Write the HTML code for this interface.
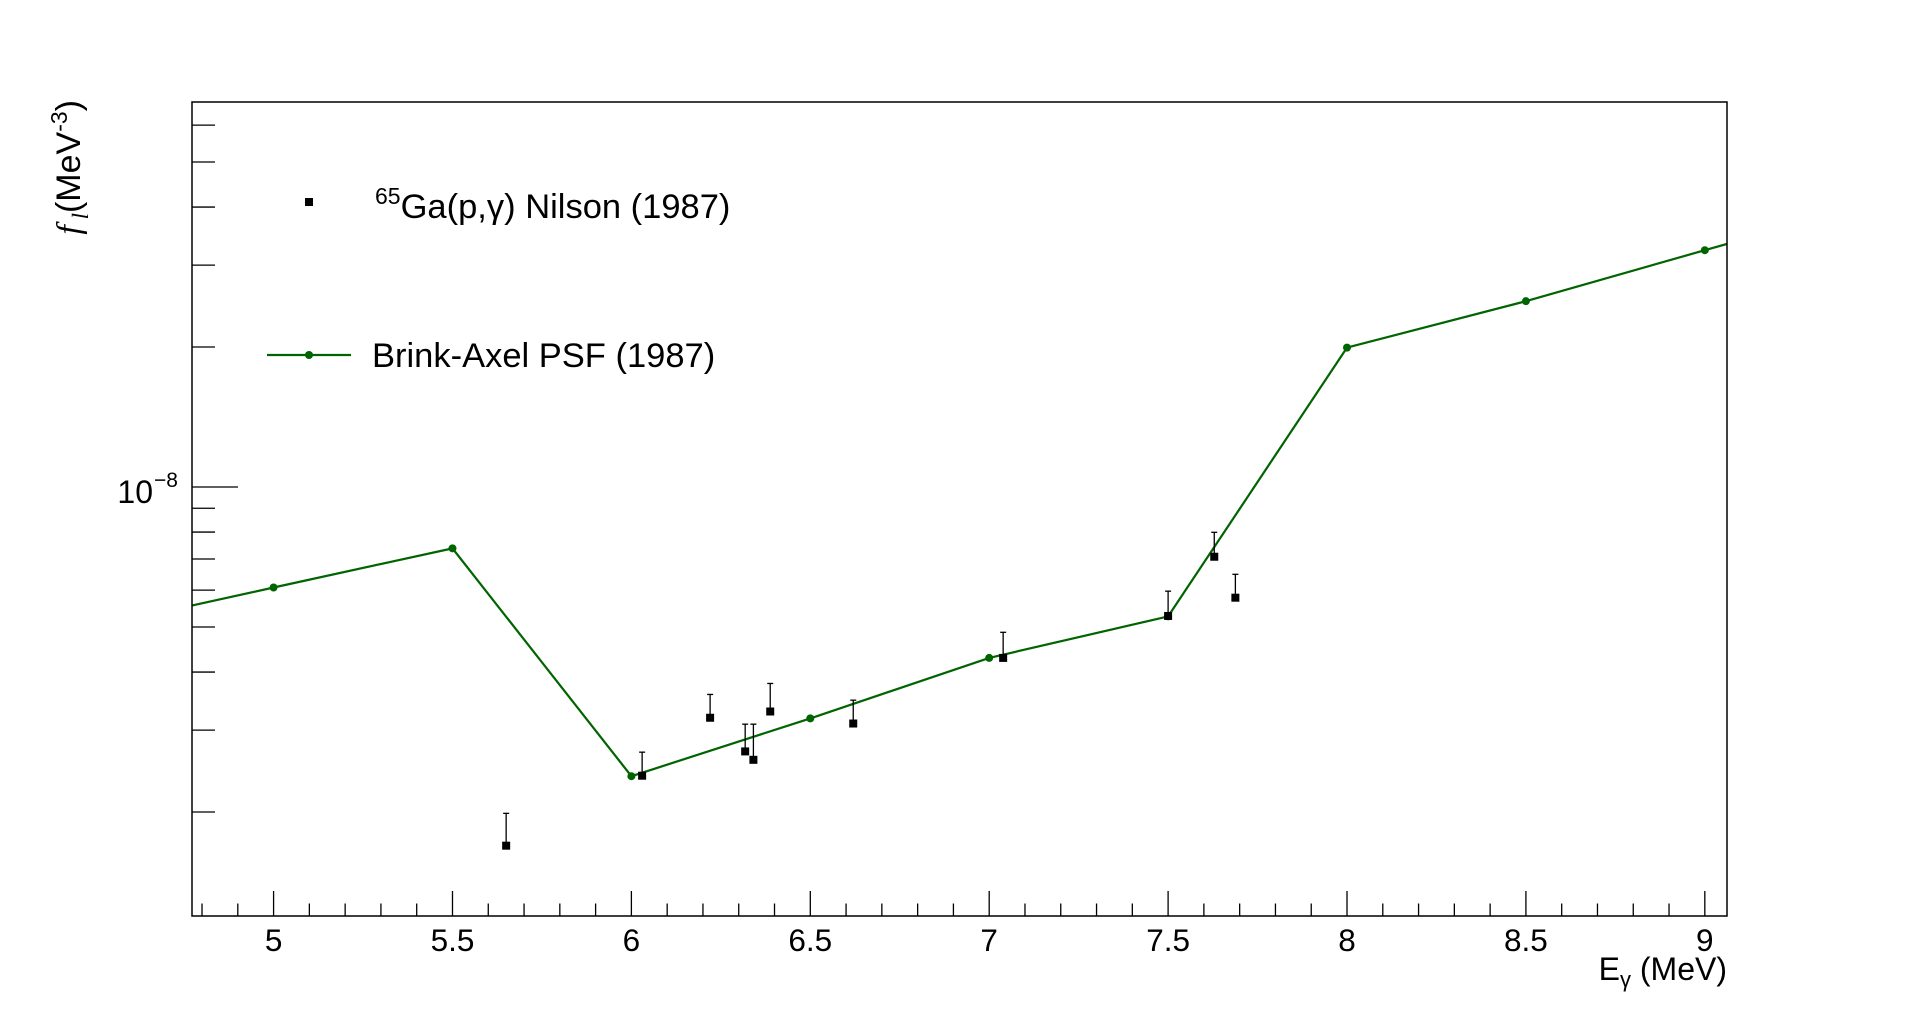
<!DOCTYPE html>
<html><head><meta charset="utf-8"><style>
html,body{margin:0;padding:0;background:#fff;}
svg{display:block;font-family:"Liberation Sans",Arial,sans-serif;}
</style></head><body>
<svg id="chart" width="1918" height="1018" viewBox="0 0 1918 1018" xmlns="http://www.w3.org/2000/svg">
<defs><clipPath id="frameClip"><rect x="192" y="102" width="1535" height="814"/></clipPath></defs>
<rect x="0" y="0" width="1918" height="1018" fill="#fff"/>
<g id="axes"></g>
<g id="plot" clip-path="url(#frameClip)"></g>
<rect x="192" y="102" width="1535" height="814" fill="none" stroke="#000" stroke-width="1.5"/>
<g>
  <rect x="305" y="198" width="8" height="8" fill="#000"/>
  <text x="375" y="218" font-size="34.5"><tspan font-size="23" dy="-14">65</tspan><tspan dy="14">Ga(p,γ) Nilson (1987)</tspan></text>
  <line x1="267" y1="355" x2="351" y2="355" stroke="#006400" stroke-width="2.2"/>
  <circle cx="309" cy="355" r="4" fill="#006400"/>
  <text x="372" y="367" font-size="34.5">Brink-Axel PSF (1987)</text>
</g>
<text x="1727" y="980" font-size="32" text-anchor="end">E<tspan font-size="22" dy="7">γ</tspan><tspan dy="-7"> (MeV)</tspan></text>
<text transform="translate(80,100) rotate(-90)" font-size="34" text-anchor="end"><tspan font-family="Liberation Serif,serif" font-style="italic">f</tspan><tspan font-family="Liberation Serif,serif" font-style="italic" font-size="23" dy="8"> l</tspan><tspan dy="-8">(MeV</tspan><tspan font-size="23" dy="-13">-3</tspan><tspan dy="13">)</tspan></text>
<script>
const xTickLabels=["5","5.5","6","6.5","7","7.5","8","8.5","9"];
const xTickValues=[5,5.5,6,6.5,7,7.5,8,8.5,9];
const modelE=[4.5,5.0,5.5,6.0,6.5,7.0,7.5,8.0,8.5,9.0,9.5];
const modelF=[5.0e-9,6.08e-9,7.38e-9,2.388e-9,3.18e-9,4.29e-9,5.27e-9,1.994e-8,2.51e-8,3.23e-8,4.15e-8];
const dataE=[5.650,6.030,6.220,6.318,6.341,6.388,6.620,7.039,7.500,7.629,7.688];
const dataF=[1.693e-9,2.394e-9,3.19e-9,2.70e-9,2.59e-9,3.29e-9,3.10e-9,4.29e-9,5.28e-9,7.08e-9,5.78e-9];
const dataErrUp=[1.987e-9,2.69e-9,3.58e-9,3.09e-9,3.09e-9,3.78e-9,3.48e-9,4.87e-9,5.97e-9,7.99e-9,6.49e-9];

const NS="http://www.w3.org/2000/svg";
const X0=192,X1=1727,Y0=102,Y1=916;
const xMin=4.772,xMax=9.062;
const xs=v=>X0+(v-xMin)/(xMax-xMin)*(X1-X0);
const ys=v=>487-465*Math.log10(v/1e-8);
function mk(tag,attrs,parent){const e=document.createElementNS(NS,tag);for(const k in attrs)e.setAttribute(k,attrs[k]);parent.appendChild(e);return e;}
const axes=document.getElementById('axes'),plot=document.getElementById('plot');
for(let i=48;i<=90;i++){const v=i/10;const major=(i%5===0);const x=xs(v);
  const t=mk('line',{x1:x,x2:x,y1:Y1,y2:Y1-(major?25:12.5),stroke:'#000','stroke-width':1.3},axes);
  
  }
xTickValues.forEach((v,i)=>{const t=mk('text',{x:xs(v),y:951,'font-size':31.5,'text-anchor':'middle'},axes);t.textContent=xTickLabels[i];
  
  });
const yMinor=[2e-9,3e-9,4e-9,5e-9,6e-9,7e-9,8e-9,9e-9,2e-8,3e-8,4e-8,5e-8,6e-8];
yMinor.forEach(v=>{const y=ys(v);const t=mk('line',{x1:X0,x2:X0+23,y1:y,y2:y,stroke:'#000','stroke-width':1.3},axes);
  
  });
{const y=ys(1e-8);const t=mk('line',{x1:X0,x2:X0+46,y1:y,y2:y,stroke:'#000','stroke-width':1.3},axes);
  
  
 const l=mk('text',{x:153,y:y+16,'font-size':32,'text-anchor':'end'},axes);l.textContent='10';
  
  
 const s=mk('text',{x:154,y:y,'font-size':21},axes);s.textContent='−8';
  
  }
const pts=modelE.map((e,i)=>xs(e).toFixed(1)+','+ys(modelF[i]).toFixed(1)).join(' ');
const pl=mk('polyline',{points:pts,fill:'none',stroke:'#006400','stroke-width':2.2},plot);


modelE.forEach((e,i)=>{const c=mk('circle',{cx:xs(e),cy:ys(modelF[i]),r:4,fill:'#006400'},plot);
  
  });
dataE.forEach((e,i)=>{const x=xs(e),y=ys(dataF[i]),yu=ys(dataErrUp[i]);
  const g=mk('g',{},plot);
  
  
  mk('line',{x1:x,x2:x,y1:y,y2:yu,stroke:'#000','stroke-width':1.3},g);
  mk('line',{x1:x-3,x2:x+3,y1:yu,y2:yu,stroke:'#000','stroke-width':1.3},g);
  mk('rect',{x:x-4,y:y-4,width:8,height:8,fill:'#000'},g);});
</script>
</svg>
</body></html>
